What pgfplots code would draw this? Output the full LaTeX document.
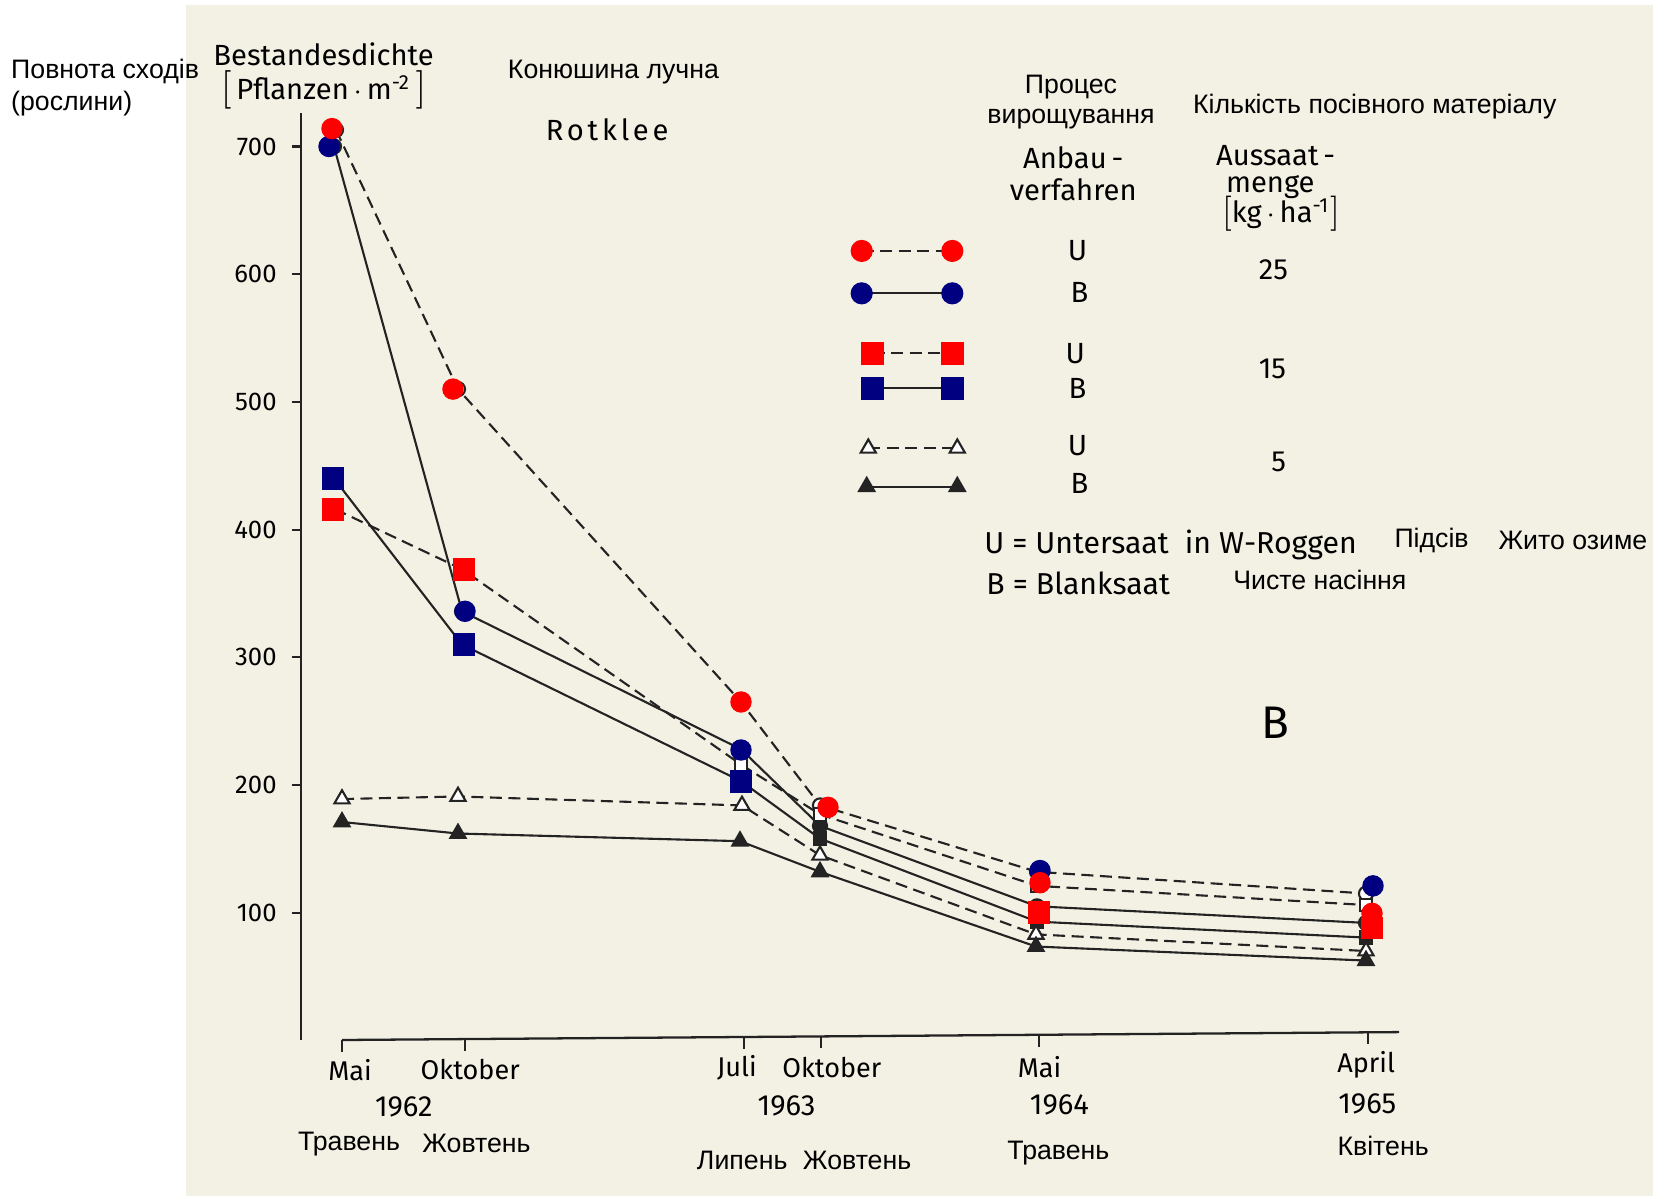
\documentclass[border=0pt]{standalone}
\usepackage{fontspec}
\setmainfont{Fira Sans}
\newfontfamily\ua{Liberation Sans}
\usepackage{pgfplots}
\pgfplotsset{compat=1.18}
\usepackage{pgfplotstable}

\definecolor{cream}{RGB}{243,241,228}
\definecolor{mred}{RGB}{255,0,0}
\definecolor{mblue}{RGB}{0,0,128}
\definecolor{ink}{RGB}{35,35,35}

% x = position on the time axis (Mai 1962 ... April 1965), y = plants per m^2
\pgfplotstableread{
x y
336 713
458 510
741 265
820 184
1037 132
1366 115
}\uXXV
\pgfplotstableread{
x y
334 700
462 336
741 228
820 168
1037 105
1366 92
}\bXXV
\pgfplotstableread{
x y
335 416
462 369
741 216
820 177
1037 121
1366 106
}\uXV
\pgfplotstableread{
x y
335 439
462 310
741 203
820 158
1037 93
1366 80.5
}\bXV
\pgfplotstableread{
x y
342 189
458 191
742 184
820 145
1036 83
1366 70
}\uV
\pgfplotstableread{
x y
342 171
458 162
740 156
820 132
1036 73.5
1366 62.5
}\bV

\newcommand\lbr[1]{{\fontsize{#1}{#1}\selectfont$[$}}
\newcommand\rbr[1]{{\fontsize{#1}{#1}\selectfont$]$}}

\tikzset{
  ua/.style={font=\ua\fontsize{7.6}{9}\selectfont},
  de/.style={font=\fontsize{8.3}{10}\selectfont},
  dm/.style={font=\fontsize{7.7}{10}\selectfont},
}
\pgfplotsset{
  dsh/.style={ink, line width=0.6pt, dash pattern=on 0.12cm off 0.065cm},
  sld/.style={ink, line width=0.6pt},
}

\begin{document}
\begin{tikzpicture}
\fill[white] (0,0) rectangle (16.53,-11.96);
\fill[cream] (1.855,-0.05) rectangle (16.53,-11.96);

\begin{axis}[
  at={(3.01cm,-10.404cm)}, anchor=south west,
  scale only axis, width=10.99cm, height=9.271cm,
  xmin=301, xmax=1400, ymin=0, ymax=726,
  axis x line=none, axis y line*=left,
  axis line style={ink, line width=0.65pt, -},
  ytick={100,200,...,700},
  tick align=outside, major tick length=0.09cm,
  tick style={ink, line width=0.6pt},
  yticklabel style={font=\fontsize{7.3}{9}\selectfont, xshift=-0.03cm},
  /pgf/number format/assume math mode=true,
  clip=false,
]
% time axis
\draw[ink, line width=0.65pt] (342,0.3) -- (1399,6.5);
\draw[ink, line width=0.6pt] (342,0.3) -- (342,-9);
\draw[ink, line width=0.6pt] (465,1.0) -- (465,-8);
\draw[ink, line width=0.6pt] (744,2.7) -- (744,-6.5);
\draw[ink, line width=0.6pt] (821,3.1) -- (821,-6);
\draw[ink, line width=0.6pt] (1039,4.4) -- (1039,-5);
\draw[ink, line width=0.6pt] (1368,6.3) -- (1368,-3);

% original series
\addplot[dsh, mark=*, mark size=2pt, mark options={solid, fill=white, draw=ink}] table {\uXXV};
\addplot[sld, mark=*, mark size=2pt, mark options={fill=ink}] table {\bXXV};
\addplot[dsh, mark=square*, mark size=1.8pt, mark options={solid, fill=white, draw=ink}] table {\uXV};
\addplot[sld, mark=square*, mark size=1.8pt, mark options={fill=ink}] table {\bXV};
\addplot[dsh, mark=triangle*, mark size=2.5pt, mark options={solid, fill=white, draw=ink}] table {\uV};
\addplot[sld, mark=triangle*, mark size=2.5pt, mark options={fill=ink}] table {\bV};

% coloured markers
\addplot[only marks, mark=*, mark size=2.85pt, mark options={draw=mblue, fill=mblue}]
  coordinates {(329,700) (465,336) (741,227.4) (1040,133) (1373,121)};
\addplot[only marks, mark=*, mark size=2.85pt, mark options={draw=mred, fill=mred}]
  coordinates {(332,714) (453,510) (741,265) (828,182.5) (1040,123.5) (1372,99.5)};
\addplot[only marks, mark=square*, mark size=3.05pt, mark options={draw=mred, fill=mred}]
  coordinates {(333,416) (464,369) (1039,100) (1372,88)};
\addplot[only marks, mark=square*, mark size=3.05pt, mark options={draw=mblue, fill=mblue}]
  coordinates {(333,440) (464,310) (741,203)};

% legend samples
\addplot[dsh, mark=*, mark size=2.85pt, mark options={solid, draw=mred, fill=mred}]
  coordinates {(861.7,618.2) (952.3,618.2)};
\addplot[sld, mark=*, mark size=2.85pt, mark options={draw=mblue, fill=mblue}]
  coordinates {(861.7,585) (952.3,585)};
\addplot[dsh, mark=square*, mark size=3.05pt, mark options={solid, draw=mred, fill=mred}]
  coordinates {(872.7,538) (952.7,538)};
\addplot[sld, mark=square*, mark size=3.05pt, mark options={draw=mblue, fill=mblue}]
  coordinates {(872.7,510.6) (952.7,510.6)};
\addplot[dsh, mark=triangle*, mark size=2.5pt, mark options={solid, fill=white, draw=ink}]
  coordinates {(868.3,463.7) (957.3,463.7)};
\addplot[sld, mark=triangle*, mark size=2.5pt, mark options={fill=ink}]
  coordinates {(866.7,433.6) (957.3,433.6)};
\end{axis}

% titles and annotations
\node[ua, anchor=west, inner sep=0pt] at (0.105,-0.717) {Повнота сходів};
\node[ua, anchor=west, inner sep=0pt] at (0.105,-1.033) {(рослини)};
\node[de, inner sep=1pt] at (3.236,-0.54) {Bestandesdichte};
\node[de, inner sep=1pt] at (3.236,-0.895) {\lbr{10.5}\,Pflanzen\,$\cdot$\,m\textsuperscript{-2}\,\rbr{10.5}};
\node[ua] at (6.135,-0.717) {Конюшина лучна};
\node[de] at (6.072,-1.297) {\addfontfeature{LetterSpace=13}Rotklee};

\node[ua] at (10.71,-0.875) {Процес};
\node[ua] at (10.71,-1.191) {вирощування};
\node[ua] at (13.747,-1.065) {Кількість посівного матеріалу};
\node[de] at (10.732,-1.581) {Anbau\,-};
\node[de] at (10.732,-1.898) {verfahren};
\node[de] at (12.756,-1.56) {Aussaat\,-};
\node[de] at (12.703,-1.866) {menge};
\node[de] at (12.809,-2.14) {\lbr{10}kg\,$\cdot$\,ha\textsuperscript{-1}\rbr{10}};

\node[de] at (10.774,-2.509) {U};
\node[de] at (10.795,-2.92) {B};
\node[de] at (12.735,-2.699) {25};
\node[de] at (10.753,-3.532) {U};
\node[de] at (10.774,-3.88) {B};
\node[de] at (12.724,-3.69) {15};
\node[de] at (10.774,-4.459) {U};
\node[de] at (10.795,-4.839) {B};
\node[de] at (12.787,-4.617) {5};

\node[font=\fontsize{8.6}{10}\selectfont, anchor=west, inner sep=0pt] at (9.836,-5.45) {U = Untersaat\ \ in W-Roggen};
\node[ua] at (14.316,-5.408) {Підсів};
\node[ua] at (15.729,-5.408) {Жито озиме};
\node[font=\fontsize{8.6}{10}\selectfont, anchor=west, inner sep=0pt] at (9.857,-5.83) {B = Blanksaat};
\node[ua] at (13.199,-5.798) {Чисте насіння};
\node[font=\fontsize{13}{15}\selectfont] at (12.756,-7.232) {B};

% time labels
\node[dm] at (3.50,-10.70) {Mai};
\node[dm] at (4.702,-10.70) {Oktober};
\node[de] at (4.038,-11.069) {1962};
\node[ua] at (3.49,-11.438) {Травень};
\node[ua] at (4.765,-11.438) {Жовтень};
\node[dm] at (7.369,-10.679) {Juli};
\node[dm] at (8.318,-10.679) {Oktober};
\node[de] at (7.865,-11.059) {1963};
\node[ua] at (7.422,-11.607) {Липень};
\node[ua] at (8.571,-11.607) {Жовтень};
\node[dm] at (10.395,-10.669) {Mai};
\node[de] at (10.595,-11.048) {1964};
\node[ua] at (10.584,-11.533) {Травень};
\node[dm] at (13.662,-10.647) {April};
\node[de] at (13.673,-11.038) {1965};
\node[ua] at (13.831,-11.459) {Квітень};

\pgfresetboundingbox
\path[use as bounding box] (0,0) rectangle (16.53,-11.96);
\end{tikzpicture}
\end{document}
